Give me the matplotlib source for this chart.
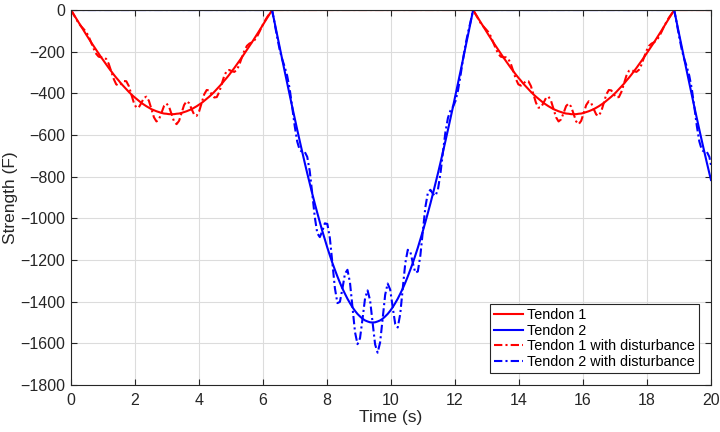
import numpy as np
import matplotlib
matplotlib.use("Agg")
import matplotlib.pyplot as plt

plt.rcParams['font.family'] = ['Liberation Sans', 'DejaVu Sans']

# one hump of the curves, sampled at 81 points over 2*pi seconds
tau = np.linspace(0, 2 * np.pi, 81)

# tendon 1 hump
hump1 = [0, -20, -39, -59, -78, -98, -117, -136, -155, -173, -191, -209, -227, -244,
         -261, -278, -294, -310, -325, -339, -354, -367, -380, -393, -405, -416, -426,
         -436, -446, -454, -462, -469, -476, -481, -486, -490, -494, -497, -498, -500,
         -500, -500, -498, -497, -494, -490, -486, -481, -476, -469, -462, -454, -446,
         -436, -426, -416, -405, -393, -380, -367, -354, -339, -325, -310, -294, -278,
         -261, -244, -227, -209, -191, -173, -155, -136, -117, -98, -78, -59, -39, -20, 0]

hump1_dist = [0, -21, -43, -63, -78, -91, -105, -126, -155, -185, -210, -224, -227, -227,
              -235, -258, -294, -331, -357, -363, -354, -341, -342, -365, -405, -445, -469,
              -467, -446, -422, -416, -436, -476, -515, -535, -525, -494, -461, -449, -464,
              -500, -535, -548, -532, -494, -456, -438, -447, -476, -502, -508, -486, -446,
              -405, -384, -386, -405, -420, -418, -393, -354, -315, -292, -288, -294, -297,
              -287, -262, -227, -195, -172, -161, -155, -145, -128, -104, -78, -55, -35, -18, 0]

# tendon 2 hump
hump2 = [0, -59, -118, -176, -235, -293, -350, -407, -464, -519, -574, -628, -681, -733,
         -784, -833, -882, -929, -974, -1018, -1061, -1101, -1141, -1178, -1214, -1247,
         -1279, -1309, -1337, -1362, -1386, -1407, -1427, -1444, -1459, -1471, -1482,
         -1490, -1495, -1499, -1500, -1499, -1495, -1490, -1482, -1471, -1459, -1444,
         -1427, -1407, -1386, -1362, -1337, -1309, -1279, -1247, -1214, -1178, -1141,
         -1101, -1061, -1018, -974, -929, -882, -833, -784, -733, -681, -628, -574, -519,
         -464, -407, -350, -293, -235, -176, -118, -59, 0]

hump2_dist = [0, -63, -129, -189, -235, -272, -315, -378, -464, -556, -631, -672, -681, -681,
              -705, -774, -882, -994, -1072, -1090, -1061, -1024, -1027, -1095, -1214, -1335,
              -1407, -1401, -1337, -1266, -1247, -1308, -1427, -1546, -1604, -1575, -1482,
              -1384, -1346, -1393, -1500, -1605, -1645, -1595, -1482, -1367, -1313, -1342,
              -1427, -1507, -1524, -1459, -1337, -1216, -1151, -1159, -1214, -1261, -1255,
              -1179, -1061, -946, -877, -863, -882, -892, -862, -785, -681, -584, -517, -482,
              -464, -436, -385, -313, -235, -164, -106, -55, 0]

t_end = 20
tendon2_end = -816
tendon2_dist_end = -745

t1 = np.concatenate([tau, tau + 4 * np.pi, [t_end]])
y1 = np.concatenate([hump1, hump1, [0]])
y1d = np.concatenate([hump1_dist, hump1_dist, [0]])

n_tail = 15
t2 = np.concatenate([[0], tau + 2 * np.pi, tau[:n_tail] + 6 * np.pi, [t_end]])
y2 = np.concatenate([[0], hump2, hump2[:n_tail], [tendon2_end]])
y2d = np.concatenate([[0], hump2_dist, hump2_dist[:n_tail], [tendon2_dist_end]])

fig = plt.figure(figsize=(7.2, 4.32), dpi=100)
ax = fig.add_axes([71 / 720, 1 - 385 / 432, 640 / 720, 375 / 432])

dashdot = (0, (4, 1.5, 1, 1.5))
ax.plot(t1, y1, color='r', lw=1.5, label='Tendon 1')
ax.plot(t2, y2, color='b', lw=1.5, label='Tendon 2')
ax.plot(t1, y1d, color='r', lw=1.5, ls=dashdot, label='Tendon 1 with disturbance')
ax.plot(t2, y2d, color='b', lw=1.5, ls=dashdot, label='Tendon 2 with disturbance')

ax.set_xlim(0, 20)
ax.set_ylim(-1800, 0)
ax.set_xticks(np.arange(0, 21, 2))
ax.set_yticks(np.arange(-1800, 1, 200))
ax.grid(True, color='#dcdcdc', lw=0.8)
ax.set_axisbelow(True)
ax.tick_params(direction='in', top=True, right=True, labelsize=11.5,
               colors='#262626', length=4)
ax.tick_params(axis='x', pad=6)
ax.tick_params(axis='y', pad=4)
for s in ax.spines.values():
    s.set_color('#262626')
    s.set_linewidth(0.8)

ax.set_xlabel('Time (s)', fontsize=12.5, color='#262626', labelpad=1)
ax.set_ylabel('Strength (F)', fontsize=12.5, color='#262626', labelpad=2)

leg = ax.legend(loc='lower right', fontsize=10.4, fancybox=False, framealpha=1,
                edgecolor='#262626', handlelength=2.0, handletextpad=0.3,
                borderpad=0.3, labelspacing=0.12, borderaxespad=0.8)
leg.get_frame().set_linewidth(0.8)

fig.savefig('out.png', dpi=100)
